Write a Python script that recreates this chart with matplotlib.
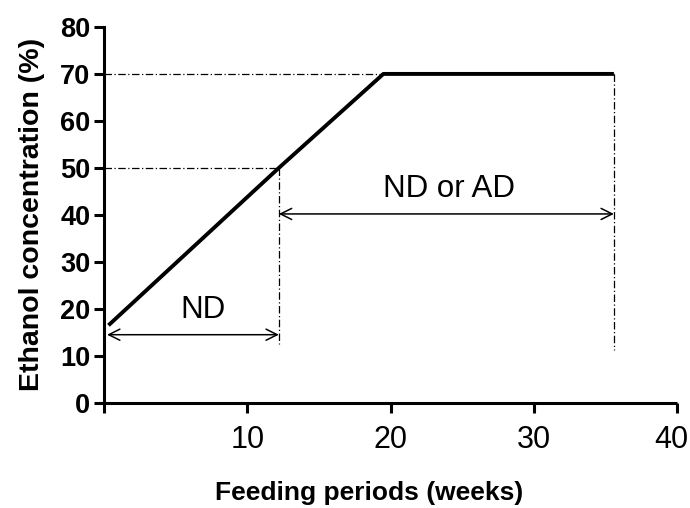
import matplotlib.pyplot as plt
from matplotlib.transforms import ScaledTranslation

# ethanol ramp schedule
weeks = [0.3, 12.2, 19.5, 35.6]
conc = [16.5, 50, 70, 70]

# guide lines / phases
nd_end = 12.2
plateau_end = 35.6
nd_arrow_y = 14.5
ad_arrow_y = 40.2
nd_label = 'ND'
ad_label = 'ND or AD'

x_ticks = [0, 10, 20, 30, 40]
x_ticklabels = ['', '10', '20', '30', '40']
y_ticks = [0, 10, 20, 30, 40, 50, 60, 70, 80]

plt.rcParams['font.family'] = ['Liberation Sans', 'DejaVu Sans']

fig = plt.figure(figsize=(6.9, 5.08), dpi=100)
ax = fig.add_axes([0.151, 0.207, 0.830, 0.740])

dashdot = (0, (6, 2, 1, 2))
# horizontal guides
ax.plot([0, plateau_end], [70, 70], color='black', lw=0.9, ls=dashdot)
ax.plot([0, nd_end], [50, 50], color='black', lw=0.9, ls=dashdot)
# vertical guides
ax.plot([nd_end, nd_end], [50, 12.5], color='black', lw=0.9, ls=dashdot)
ax.plot([plateau_end, plateau_end], [70, 11.2], color='black', lw=0.9, ls=dashdot)

# main line
ax.plot(weeks, conc, color='black', lw=2.8, solid_capstyle='butt', zorder=3)

# arrows
arrow = dict(arrowstyle='<->', color='black', lw=1.1, mutation_scale=20, shrinkA=0, shrinkB=0)
ax.annotate('', xy=(0.2, nd_arrow_y), xytext=(nd_end, nd_arrow_y), arrowprops=arrow)
ax.annotate('', xy=(nd_end, ad_arrow_y), xytext=(plateau_end, ad_arrow_y), arrowprops=arrow)
ax.text(6.9, 19.8, nd_label, ha='center', va='center', fontsize=22.5)
ax.text(24.1, 45.6, ad_label, ha='center', va='center', fontsize=22.5)

ax.set_xlim(0, 40)
ax.set_ylim(0, 80)
ax.set_xticks(x_ticks)
ax.set_xticklabels(x_ticklabels, fontsize=22)
ax.set_yticks(y_ticks)
ax.set_yticklabels([str(v) for v in y_ticks], fontsize=19.5, fontweight='bold')
ax.tick_params(axis='both', width=2.2, length=7, direction='out', pad=3)
ax.tick_params(axis='x', pad=9)

# last x label sits a bit left so it stays inside the image
last = ax.get_xticklabels()[-1]
last.set_transform(last.get_transform() + ScaledTranslation(-6 / 100, 0, fig.dpi_scale_trans))

for s in ['top', 'right']:
    ax.spines[s].set_visible(False)
for s in ['left', 'bottom']:
    ax.spines[s].set_linewidth(2.2)
ax.spines['bottom'].set_capstyle('butt')

ax.set_xlabel('Feeding periods (weeks)', fontsize=19, fontweight='bold', va='center')
ax.xaxis.set_label_coords(0.4625, -0.239)
ax.set_ylabel('Ethanol concentration (%)', fontsize=20.5, fontweight='bold', labelpad=11)

fig.savefig('out.png', dpi=100)
